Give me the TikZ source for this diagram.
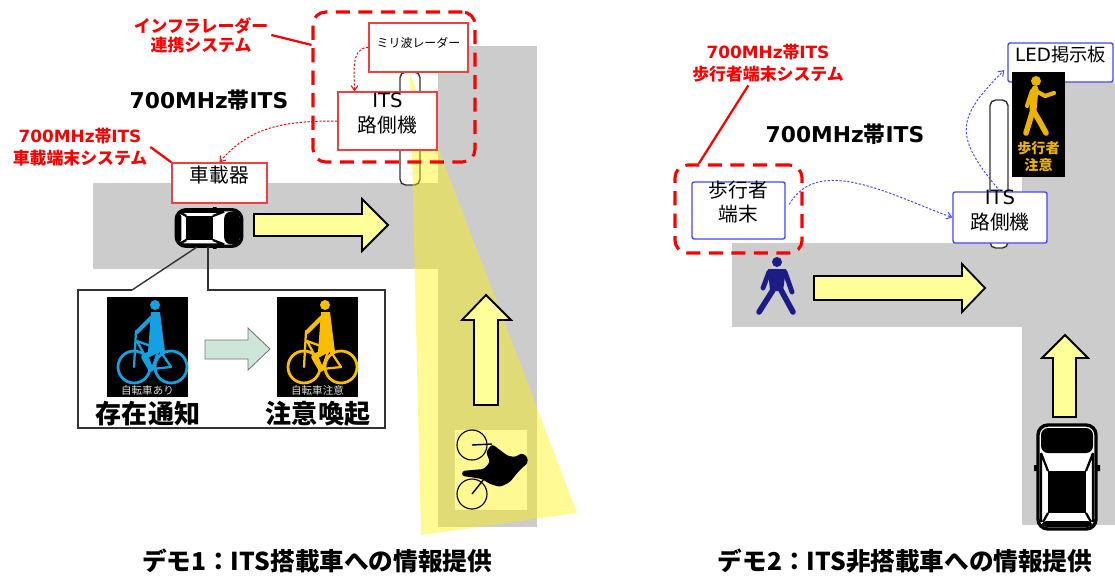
\documentclass[tikz,border=0pt]{standalone}
\usepackage{fontspec}
\setmainfont{Noto Sans CJK JP}
\setsansfont{Noto Sans CJK JP}
\newfontfamily\lat{DejaVu Sans}
\usetikzlibrary{fit,arrows.meta}
\definecolor{roadgray}{RGB}{204,204,204}
\definecolor{arrowy}{RGB}{255,255,153}
\definecolor{itsred}{RGB}{250,0,0}
\definecolor{boxred}{RGB}{238,64,64}
\definecolor{itsblue}{RGB}{70,70,250}
\definecolor{cycblue}{RGB}{20,160,225}
\definecolor{cycamber}{RGB}{250,190,0}
\definecolor{amber}{RGB}{235,180,0}
\definecolor{walknavy}{RGB}{28,28,135}
\definecolor{mint}{RGB}{205,230,215}

\newcommand{\band}{{\lat 700MHz}帯{\lat ITS}}
% top view of a car, nose pointing up, about 58 x 104 px
\newcommand{\sedan}{%
  \draw[line width=2.4pt, fill=white, rounded corners=7pt] (-29,-52) rectangle (29,52);
  \fill[rounded corners=5pt] (-26,-49) rectangle (26,-24);
  \fill (-19,-6) rectangle (19,36);
  \draw[line width=1.6pt] (-26,-24) -- (-19,-6) (26,-24) -- (19,-6)
    (-26,-24) -- (-26,45) (26,-24) -- (26,45)
    (-19,36) -- (-24,45) (19,36) -- (24,45);
  \fill[rounded corners=3pt] (-25,44) rectangle (25,50);
  \fill (-33,-12) rectangle (-29,-6) (29,-12) rectangle (33,-6);
}

\begin{document}
\begin{tikzpicture}[font=\sffamily, x=0.025cm, y=-0.025cm,
  redlbl/.style={text=itsred, font=\sffamily\bfseries\fontsize{12}{16}\selectfont, align=center, inner sep=2pt},
  bandlbl/.style={font=\sffamily\bfseries\fontsize{15.5}{18}\selectfont},
  redbox/.style={draw=boxred, line width=1pt, fill=white, inner sep=0pt, align=center, font=\sffamily\fontsize{14}{17.5}\selectfont},
  bluebox/.style={redbox, draw=itsblue, rounded corners=1.5pt},
  zone/.style={draw=itsred, line width=2.2pt, dash pattern=on 10pt off 6pt, rounded corners=9pt, inner sep=0pt},
  lead/.style={itsred, line width=1.6pt},
  radio/.style={draw=itsred, line width=0.7pt, dash pattern=on 1.6pt off 1.2pt, -{Straight Barb[length=3.5pt,width=5pt]}},
  bigarrow/.style={fill=arrowy, draw=black, line width=1.3pt, line join=miter},
  pole/.style={draw=black!80, fill=white, line width=1pt, rounded corners=4pt},
  captionlbl/.style={font=\sffamily\bfseries\fontsize{17.5}{20}\selectfont}
]
\useasboundingbox (0,0) rectangle (1115,581);

% ================= demo 1 =================
% ---- roads ----
\fill[roadgray] (93,183) rectangle (537,269);
\fill[roadgray] (438,46) rectangle (537,527);

% ---- roadside pole + radar beam (over the cyclist tile) ----
\fill[white] (455,430) rectangle (527,510);
\draw[pole] (400,72) rectangle (420,185);
\fill[yellow, opacity=0.42] (410,74) -- (421,535) -- (577,513) -- cycle;

% ---- cyclist seen from above ----
\draw[line width=0.8pt] (472,445) circle (15) (472,494) circle (15);
\draw[line width=1pt] (472,445) -- (492,444) (472,494) -- (484,479);
\fill[rounded corners=2pt] (492,444) -- (500,450) -- (508,456) -- (516,457) -- (521,453) -- (527,456)
  -- (528,463) -- (523,467) -- (518,472) -- (510,482) -- (500,487) -- (490,484) -- (482,479)
  -- (470,477) -- (462,476) -- (462,471) -- (472,470) -- (484,469) -- (490,462) -- (486,452) -- cycle;

% ---- travel arrows ----
\draw[bigarrow] (254,214) -- (362,214) -- (362,199) -- (388,225) -- (362,251) -- (362,236) -- (254,236) -- cycle;
\draw[bigarrow] (474,405) -- (474,320) -- (462,320) -- (486,295) -- (511,320) -- (498,320) -- (498,405) -- cycle;

% ---- equipped car ----
\begin{scope}[shift={(209,228)}, rotate=-90, scale=0.63]
  \sedan
\end{scope}

% ---- infrastructure side ----
\node[zone, fit={(313,12) (475,162)}] (infra) {};
\node[redbox, fit={(369,23) (468,72)}, font=\sffamily\fontsize{8.5}{10}\selectfont] (radar) {ミリ波レーダー};
\node[redbox, fit={(338,92) (437,150)}] (rsuL) {{\lat ITS}\\路側機};
\node[redbox, fit={(172,163) (267,203)}] (obu) {車載器};

\node[redlbl, font=\sffamily\bfseries\fontsize{12}{13.5}\selectfont] (infraLbl) at (201,35) {インフラレーダー\\連携システム};
\node[bandlbl] (bandL) at (209,100) {\band};
\node[redlbl] (obuLbl) at (80,147) {\band\\車載端末システム};

\draw[lead] (infraLbl.east) -- (infra.153);
\draw[lead] (obuLbl.east) -- (obu.north west);
\draw[radio] (radar.west) to[out=180, in=90] (rsuL.138);
\draw[radio] (rsuL.west) to[out=180, in=50] (obu.north);

% ---- in-car display callout ----
\coordinate (calloutA) at (197,247);
\coordinate (calloutB) at (208,247);
\draw[black!80, line width=1pt] (132,290) -- (calloutA);
\draw[black!80, line width=1pt] (calloutB) -- (208,290) -- (385,290) -- (385,428) -- (78,428) -- (78,290) -- (132,290);

\foreach \sx/\col/\tag/\cap in {107/cycblue/自転車あり/存在通知, 277/cycamber/自転車注意/注意喚起}{
  \begin{scope}[shift={(\sx,297)}]
    \fill[black] (0,0) rectangle (81,100);
    \begin{scope}[draw=\col, fill=\col, line cap=round, line join=round]
      \fill (48,8) circle (5);
      \fill (44,15) -- (53,15) -- (58,55) -- (41,55) -- cycle;
      \draw[line width=3pt] (44,21) -- (30,35);
      \draw[line width=2pt] (27,70) circle (16) (64,70) circle (16);
      \draw[line width=1.6pt] (27,70) -- (29,34) (30,44) -- (52,52) -- (45,72) -- (64,70) -- (52,52) (30,44) -- (45,72);
      \draw[line width=4pt] (48,54) -- (37,60) -- (44,72);
    \end{scope}
    \node[font=\sffamily\fontsize{7.5}{8}\selectfont, text=black!15] (tag\sx) at (40.5,93) {\tag};
  \end{scope}
  \node[font=\sffamily\bfseries\fontsize{18.5}{20}\selectfont] (cap\sx) at ({\sx+41},414) {\cap};
}
\draw[fill=mint, draw=black!55, line width=0.6pt] (205,340) -- (248,340) -- (248,328) -- (270,349) -- (248,370) -- (248,359) -- (205,359) -- cycle;

\node[captionlbl] (demo1) at (317,561) {デモ1：ITS搭載車への情報提供};

% ================= demo 2 =================
% ---- roads ----
\fill[roadgray] (732,243) rectangle (1115,327);
\fill[roadgray] (1022,82) rectangle (1115,525);
\draw[pole] (990,100) rectangle (1008,248);

% ---- pedestrian ----
\begin{scope}[walknavy, line cap=round, line join=round]
  \fill (777,262) circle (5);
  \fill (768,269) -- (786,269) -- (783,291) -- (770,291) -- cycle;
  \draw[line width=3.5pt] (769,272) -- (763,288) (785,272) -- (792,292);
  \draw[line width=4pt] (773,290) -- (759,312) (781,290) -- (793,312);
\end{scope}

% ---- travel arrows ----
\draw[bigarrow] (814,276) -- (962,276) -- (962,264) -- (985,288) -- (962,312) -- (962,300) -- (814,300) -- cycle;
\draw[bigarrow] (1053,417) -- (1053,358) -- (1042,358) -- (1065,335) -- (1088,358) -- (1076,358) -- (1076,417) -- cycle;

% ---- unequipped car ----
\begin{scope}[shift={(1067,477)}]
  \sedan
\end{scope}

% ---- pedestrian terminal + roadside unit ----
\node[zone, fit={(675,165) (802,253)}] (pedSys) {};
\node[bluebox, fit={(692,182) (785,239)}, font=\sffamily\fontsize{14}{17}\selectfont] (pedTerm) {歩行者\\端末};
\node[bluebox, fit={(953,192) (1047,243)}] (rsuR) {{\lat ITS}\\路側機};
\node[bluebox, fit={(1008,43) (1113,82)}, font=\sffamily\fontsize{13}{15}\selectfont] (led) {{\lat LED}掲示板};

% ---- LED sign ----
\begin{scope}[shift={(1012,72)}]
  \fill[black] (0,0) rectangle (53,105);
  \begin{scope}[draw=amber, fill=amber, line cap=round, line join=round]
    \fill (24,9) circle (5);
    \draw[line width=5pt] (23,17) -- (21,38);
    \draw[line width=3pt] (24,19) -- (33,24) -- (42,21);
    \draw[line width=3pt] (20,19) -- (15,34);
    \draw[line width=4pt] (21,38) -- (14,61) (21,38) -- (28,50) -- (34,61);
  \end{scope}
  \node[font=\sffamily\bfseries\fontsize{10}{12}\selectfont, text=amber, align=center] (ledtxt) at (26.5,85) {歩行者\\注意};
\end{scope}

\node[redlbl] (pedLbl) at (768,63) {\band\\歩行者端末システム};
\node[bandlbl] (bandR) at (845,134) {\band};

\draw[lead] ([xshift=-14pt]pedLbl.south) -- (pedSys.131);
\draw[radio, draw=itsblue, shorten <=5pt] (pedTerm.east) to[out=60, in=160] (rsuR.west);
\draw[radio, draw=itsblue, shorten >=3pt] (rsuR.north) to[out=130, in=225, looseness=1.5] (led.185);

\node[captionlbl] (demo2) at (905,561) {デモ2：ITS非搭載車への情報提供};
\end{tikzpicture}
\end{document}
